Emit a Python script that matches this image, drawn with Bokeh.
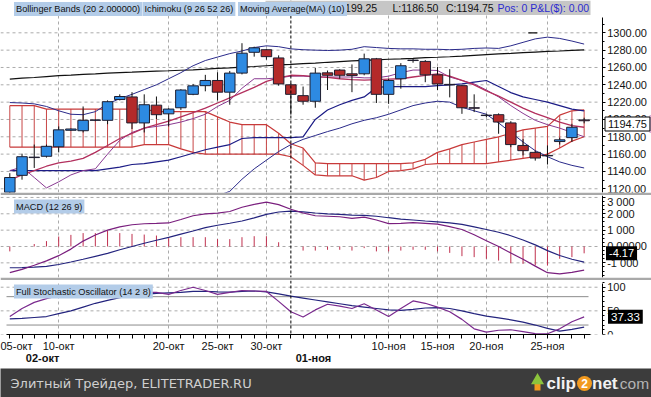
from bokeh.plotting import figure
from bokeh.models import (Range1d, FixedTicker, LinearAxis, Span, Label,
                          BoxAnnotation, ColumnDataSource)
from bokeh.layouts import column
from bokeh.embed import file_html
from bokeh.resources import INLINE

# ---------------- data ----------------
opens = [1116, 1135.5, 1156.5, 1157.5, 1168.5, 1187.5, 1187, 1199, 1199, 1223,
         1226, 1196, 1216.5, 1206.5, 1213.5, 1229, 1239, 1245, 1231.5, 1253.5,
         1277.5, 1280.5, 1271, 1240, 1227.5, 1221, 1253.8, 1257, 1252.7, 1252.7,
         1270, 1229, 1247, 1268.5, 1267, 1251.5, 1240.5, 1239, 1213.5, 1205,
         1205.5, 1196, 1170, 1162, 1158.5, 1174.5, 1179, 1199.5]
highs = [1138, 1160.5, 1171, 1171, 1192, 1189.5, 1215, 1200, 1222, 1229,
         1231.5, 1229, 1226.5, 1213, 1235, 1241, 1251.5, 1254.5, 1256, 1288,
         1284, 1281.5, 1274, 1242, 1238, 1259.5, 1256.5, 1258, 1263.5, 1276,
         1271, 1247, 1265, 1270, 1268.5, 1260.5, 1258, 1240, 1229, 1206.5,
         1207, 1198, 1177.5, 1164, 1170, 1179, 1195, 1202]
lows = [1110, 1130.5, 1144, 1156, 1162, 1187, 1185, 1198, 1194.5, 1222,
        1189, 1185, 1200.5, 1192, 1211, 1228, 1232.5, 1222, 1217, 1252,
        1272.5, 1269, 1239, 1205.5, 1217, 1213.5, 1234, 1247, 1231.5, 1251,
        1219, 1218, 1235.5, 1265.5, 1243, 1234, 1225.5, 1206.5, 1208.5, 1202.5,
        1183.5, 1168, 1158.5, 1152.5, 1148, 1171, 1174, 1195.5]
closes = [1133, 1157, 1156, 1169, 1188, 1189, 1199, 1199.4, 1220.5, 1226.5,
          1196, 1217, 1205.5, 1212, 1234, 1238.8, 1245, 1231.5, 1253.5, 1276.5,
          1282.7, 1272.5, 1241, 1229, 1221, 1253.5, 1251, 1251, 1250.8, 1270,
          1229, 1245, 1262, 1268, 1251.5, 1241, 1240, 1213.5, 1213, 1204.5,
          1197, 1171, 1164, 1155.5, 1158, 1176.5, 1191, 1198.5]

bb_upper = [1219.5, 1219, 1218, 1215, 1210, 1206, 1205.5, 1209, 1218, 1224,
            1229, 1234.5, 1240, 1247, 1254, 1262, 1268, 1272, 1276, 1279,
            1283, 1285, 1284, 1281.5, 1280.5, 1280, 1279.6, 1280, 1281, 1284,
            1283, 1282, 1281.5, 1281.5, 1281, 1281, 1280.5, 1281, 1282, 1282.5,
            1282, 1285, 1289, 1293, 1295, 1293.5, 1290.5, 1287]
bb_lower = [1078, 1076, 1075, 1075, 1076, 1078, 1080, 1082, 1084, 1086,
            1088, 1090, 1093, 1096, 1100, 1104, 1108, 1112, 1117, 1131,
            1143, 1153, 1163, 1171, 1177, 1181.5, 1186, 1190, 1195, 1199,
            1202, 1206, 1211, 1216, 1219, 1221, 1220, 1214, 1210, 1206,
            1196, 1185, 1174, 1164, 1157, 1151, 1147, 1144]
kijun = [1141, 1141, 1141, 1141, 1141, 1141, 1141, 1141, 1143, 1145,
         1148, 1149, 1151, 1153, 1157, 1161, 1165, 1168, 1171, 1178,
         1179, 1179, 1179, 1179, 1180, 1200, 1211, 1217, 1222, 1226,
         1237, 1238, 1238, 1238, 1238, 1239, 1240, 1241, 1243, 1245,
         1238, 1231, 1226, 1223, 1220, 1216, 1212, 1210]
tenkan = [1141, 1145, 1133, 1121, 1128, 1136, 1141, 1143, 1160, 1176,
          1185, 1190, 1192, 1194, 1197, 1201, 1206, 1215, 1222, 1236,
          1247, 1247, 1248, 1250, 1250, 1249, 1249, 1249, 1249, 1248,
          1248, 1250, 1254, 1257, 1257, 1256.5, 1249, 1245, 1241, 1234,
          1226, 1216, 1207, 1199, 1194, 1190, 1185, 1180]
ma10 = [1130, 1136, 1141, 1146, 1150, 1152, 1155, 1162, 1170, 1178,
        1184, 1190, 1194, 1198, 1203, 1208, 1213, 1219, 1225, 1231,
        1237, 1244, 1248, 1251, 1250.5, 1249.5, 1248.5, 1247, 1246, 1245.5,
        1246, 1246.5, 1247, 1249, 1251, 1252.5, 1250, 1245, 1240, 1233,
        1227, 1220, 1213, 1207, 1202, 1197, 1193, 1191]
ma_long = [1246.5, 1247.6, 1248.4, 1249.5, 1250.5, 1251.2, 1252.1, 1252.7, 1253.4, 1254.1,
           1254.6, 1255.3, 1255.8, 1256.2, 1256.8, 1257.3, 1258.0, 1258.9, 1259.6, 1260.4,
           1261.1, 1262.0, 1262.9, 1263.6, 1264.4, 1265.1, 1266.0, 1266.8, 1267.6, 1268.1,
           1268.8, 1269.5, 1270.0, 1270.6, 1271.3, 1271.8, 1272.4, 1273.1, 1274.0, 1274.9,
           1275.6, 1276.2, 1277.1, 1277.8, 1278.5, 1279.0, 1279.7, 1280.3]
span_a = [1216, 1216, 1216, 1212, 1212, 1212, 1212, 1212, 1212, 1212,
          1212, 1212, 1209, 1209, 1209, 1209, 1209, 1203, 1197, 1194,
          1194, 1194, 1184, 1172, 1167, 1150, 1149, 1149, 1149, 1149,
          1149, 1149, 1149, 1150, 1154, 1162, 1166, 1171, 1174, 1177,
          1180, 1184, 1188, 1190, 1192, 1205, 1210, 1211]
span_b = [1168, 1168, 1168, 1168, 1168, 1168, 1168, 1168, 1168, 1168,
          1168, 1171, 1171, 1171, 1166, 1162, 1160, 1160, 1160, 1160,
          1160, 1160, 1160, 1157, 1147, 1136, 1135, 1135, 1135, 1130,
          1133, 1140, 1141, 1143, 1148, 1149, 1149, 1149, 1149, 1149,
          1151, 1153, 1155, 1157, 1160, 1167, 1175, 1180]
stray_mark_x = [42.8]
stray_mark_y = [1300.0]

macd = [-1600, -1400, -1150, -880, -560, -160, 330, 700, 1000, 1200,
        1330, 1390, 1410, 1440, 1650, 1880, 1990, 2040, 2140, 2400,
        2580, 2710, 2560, 2280, 2050, 1880, 1850, 1820, 1720, 1800,
        1620, 1400, 1420, 1460, 1420, 1370, 1220, 1040, 720, 350,
        0, -400, -780, -1200, -1600, -1680, -1580, -1440]
macd_signal = [-1300, -1290, -1260, -1220, -1100, -950, -780, -600, -420, -200,
               0, 200, 380, 560, 760, 950, 1150, 1300, 1420, 1560,
               1750, 1960, 2110, 2160, 2120, 2050, 2000, 1960, 1920, 1900,
               1850, 1760, 1680, 1620, 1560, 1510, 1450, 1350, 1200, 1040,
               870, 660, 400, 100, -250, -550, -780, -960]
macd_hist = [-300, 0, 150, 330, 610, 710, 820, 820, 980, 820,
             770, 730, 670, 510, 570, 570, 570, 450, 450, 570,
             630, 630, 260, 0, -250, -250, -200, -200, -250, -100,
             -300, -300, -250, -200, -200, -300, -390, -590, -650, -750,
             -860, -1020, -1060, -1160, -1160, -750, -650, -417]
stoch_k = [38, 55, 68, 76, 82, 86, 88, 90, 92, 93,
           90, 89, 89, 85, 93, 100, 93, 85, 89, 93,
           92, 91, 70, 48, 37, 52, 64, 60, 55, 65,
           52, 38, 55, 71, 66, 58, 48, 32, 12, 5,
           9, 10, 6, 2, 1.5, 12, 27, 37.33]
stoch_d = [33, 34, 36, 38, 44, 50, 58, 66, 72, 78,
           82, 85, 87, 88, 89, 91, 91.5, 90, 89.5, 91,
           92, 90, 86, 81, 77, 73, 69, 65, 61, 58,
           55, 52, 51, 53, 56, 57, 55, 50, 44, 39,
           35, 31, 26, 20, 13, 7, 11, 15.5]

day_labels = {0: "05-окт", 4: "10-окт", 13: "20-окт", 17: "25-окт", 21: "30-окт",
              31: "10-ноя", 35: "15-ноя", 39: "20-ноя", 44: "25-ноя"}
month_labels = {2.68: "02-окт", 24.85: "01-ноя"}
month_start_idx = 23
price_ticks = [1120, 1140, 1160, 1180, 1200, 1220, 1240, 1260, 1280, 1300]
macd_ticks = {-1000: "-1 000", 0: "0.00000", 1000: "1 000", 2000: "2 000", 3000: "3 000"}
stoch_ticks = {0: "0", 50: "50", 100: "100"}
stoch_levels = [20, 80]
quote_high, quote_low, quote_close = 1199.25, 1186.50, 1194.75
macd_last_text = "-4.17"
macd_last_value = -417
stoch_last = 37.33

# ---------------- layout constants ----------------
FONT = "Liberation Sans"
W = 651
PX_PER_IDX = 12.22
X_START = -9.3 / PX_PER_IDX
X_END = X_START + W / PX_PER_IDX
GRID = "#ababab"
SEP = "#a9a9a9"
LBL_BG = "#b3cce8"
N = len(closes)
idx = list(range(N))
grid_idx = sorted(k for k in day_labels if k != 0)

x_range = Range1d(X_START, X_END)


def px_x(px):
    return X_START + px / PX_PER_IDX


AXIS_X = px_x(601.7)
LINE_END = px_x(590)
GRID_END = px_x(598)


def make_panel(frame_h, y0, y1, ticks, labels, minor, axis_top=None, xaxis=False):
    p = figure(frame_width=W, frame_height=frame_h, x_range=x_range,
               y_range=Range1d(y0, y1), output_backend="svg", toolbar_location=None,
               y_axis_location=None, x_axis_location="below" if xaxis else None,
               min_border_left=0, min_border_right=0, min_border_top=0,
               min_border_bottom=34 if xaxis else 3)
    p.outline_line_color = None
    p.background_fill_color = "white"
    # the 3px bottom border of the upper panels acts as the grey separator
    p.border_fill_color = "white" if xaxis else SEP
    p.xgrid.ticker = FixedTicker(ticks=grid_idx)
    p.xgrid.grid_line_color = GRID
    p.xgrid.grid_line_dash = "3 3"
    p.ygrid.visible = False
    # horizontal dashed grid, ending at the axis
    p.segment(x0=[X_START] * len(ticks), x1=[GRID_END] * len(ticks), y0=list(ticks),
              y1=list(ticks), line_color=GRID, line_dash="3 3", line_width=1)
    ya = LinearAxis(fixed_location=AXIS_X, ticker=FixedTicker(ticks=list(ticks), minor_ticks=minor),
                    major_label_overrides=labels,
                    bounds=(y0, axis_top if axis_top is not None else y1))
    ya.axis_line_color = "black"
    ya.major_tick_line_color = "black"
    ya.minor_tick_line_color = "black"
    ya.major_tick_in = 0
    ya.major_tick_out = 3
    ya.minor_tick_in = 0
    ya.minor_tick_out = 2
    ya.major_label_standoff = 2
    ya.major_label_text_font = FONT
    ya.major_label_text_font_size = "11px"
    ya.major_label_text_color = "#151515"
    p.add_layout(ya, "right")
    p.add_layout(Span(location=month_start_idx, dimension="height", line_color="black",
                      line_dash="3 2", line_width=1))
    return p


def val_y(p, top_px, frame_h, py):
    y0, y1 = p.y_range.start, p.y_range.end
    return y1 - (py - top_px) * (y1 - y0) / frame_h


def add_label(p, text, x, y, size, color="#111111", bg=None, pad=0, bold=False,
              border=None, align="left", font=FONT, level="annotation"):
    p.add_layout(Label(x=x, y=y, text=text, text_font=font, text_font_size=size,
                       text_color=color, text_baseline="middle", text_align=align,
                       background_fill_color=bg, background_fill_alpha=1.0 if bg else 0,
                       border_line_color=border, padding=pad, level=level,
                       text_font_style="bold" if bold else "normal"))


# ---------------- price panel ----------------
P_H, P_TOP = 192, 0
P0, P1 = 1115.7, 1337.3
pp = make_panel(P_H, P0, P1, price_ticks, {t: f"{t:.2f}" for t in price_ticks},
                list(range(1120, 1320, 10)), axis_top=P1 - 17 * (P1 - P0) / P_H)

# Ichimoku cloud: hatch lines + boundaries
pp.segment(x0=idx, y0=span_b, x1=idx, y1=span_a, line_color="#c84646", line_width=1)
pp.line(idx, span_a, line_color="#c83a3a", line_width=1.2)
pp.line(idx, span_b, line_color="#c83a3a", line_width=1.2)
# lines
pp.line(idx, ma_long, line_color="#111111", line_width=1.2)
pp.line(idx, bb_upper, line_color="#2a2a8a", line_width=1)
pp.line(idx, bb_lower, line_color="#2a2a8a", line_width=1)
pp.line(idx, kijun, line_color="#1c1c86", line_width=1.2)
pp.line(idx, tenkan, line_color="#8a3a92", line_width=1)
pp.line(idx, ma10, line_color="#b3305e", line_width=1.3)
pp.scatter(stray_mark_x, stray_mark_y, marker="dash", size=9, line_color="#111111",
           line_width=1.2)

# candles
src = ColumnDataSource(dict(
    x=idx, o=opens, h=highs, l=lows, c=closes,
    top=[max(o, c) for o, c in zip(opens, closes)],
    bot=[min(o, c) for o, c in zip(opens, closes)],
    col=["#2d8ae2" if c >= o else "#b42a2a" for o, c in zip(opens, closes)]))
pp.segment(x0="x", y0="l", x1="x", y1="h", source=src, line_color="#101010", line_width=1)
pp.vbar(x="x", width=0.86, top="top", bottom="bot", source=src, fill_color="col",
        line_color="#1e1e30", line_width=1)

# header
pp.add_layout(BoxAnnotation(left=px_x(265), right=px_x(590), top=val_y(pp, P_TOP, P_H, 0),
                            bottom=val_y(pp, P_TOP, P_H, 14.5), fill_color="#c6c6c6",
                            fill_alpha=1, line_color=None))
hy = val_y(pp, P_TOP, P_H, 7.2)
add_label(pp, f"H:{quote_high:.2f}", px_x(329), hy, "10.5px")
add_label(pp, f"L:{quote_low:.2f}", px_x(392), hy, "10.5px")
add_label(pp, f"C:{quote_close:.2f}", px_x(445.5), hy, "10.5px")
add_label(pp, "Pos: 0 P&L($): 0.00", px_x(497), hy, "10.5px", color="#2b2bd0")
ly = val_y(pp, P_TOP, P_H, 8.5)
add_label(pp, "Bollinger Bands (20 2.000000)", px_x(13.5), ly, "9.2px", bg=LBL_BG, pad=2)
add_label(pp, "Ichimoku (9 26 52 26)", px_x(142), ly, "9.2px", bg=LBL_BG, pad=2)
add_label(pp, "Moving Average(MA) (10)", px_x(237.5), ly, "9.2px", bg=LBL_BG, pad=2)
# current value box (drawn above the axis)
add_label(pp, " ", px_x(649), quote_close, "11px", bg="#d8b0d6", pad=3, level="overlay")
add_label(pp, f"{quote_close:.2f}", px_x(604.5), quote_close, "11px", bg="white", pad=3,
          border="black", level="overlay")

# ---------------- MACD panel ----------------
M_H, M_TOP = 82, 195
pm = make_panel(M_H, -1896, 3119, list(macd_ticks), macd_ticks,
                list(range(-1750, 3250, 250)))
pm.segment(x0=idx, y0=[0] * N, x1=idx, y1=macd_hist, line_color="#c0304e", line_width=1)
pm.line(idx, macd_signal, line_color="#24247e", line_width=1.2)
pm.line(idx, macd, line_color="#7a1f7e", line_width=1.2)
add_label(pm, "MACD (12 26 9)", px_x(13.5), val_y(pm, M_TOP, M_H, 206), "9.2px",
          bg=LBL_BG, pad=2)
add_label(pm, macd_last_text, px_x(605.5), macd_last_value, "11px", color="white",
          bg="black", pad=3, level="overlay")

# ---------------- Stochastic panel ----------------
S_H, S_TOP = 54, 280
S0, S1 = 0, 114.2
ps = make_panel(S_H, S0, S1, list(stoch_ticks), stoch_ticks, list(range(0, 111, 10)),
                axis_top=S1 - 3 * (S1 - S0) / S_H, xaxis=True)
ps.segment(x0=[px_x(6)] * len(stoch_levels), x1=[px_x(588)] * len(stoch_levels),
           y0=stoch_levels, y1=stoch_levels, line_color="#8c8c8c", line_width=1)
ps.line(idx, stoch_d, line_color="#24247e", line_width=1.2)
ps.line(idx, stoch_k, line_color="#7a2a8e", line_width=1.2)
add_label(ps, "Full Stochastic Oscillator (14 2 8)", px_x(13.5), val_y(ps, S_TOP, S_H, 291),
          "9.2px", bg=LBL_BG, pad=2)
add_label(ps, f"{stoch_last:.2f}", px_x(607.5), stoch_last, "11.5px", color="white",
          bg="black", pad=3, level="overlay")

ax1 = ps.below[0]
ax1.ticker = FixedTicker(ticks=idx)
ax1.bounds = (px_x(6), LINE_END)
ax1.major_label_overrides = {i: day_labels.get(i, "") for i in idx}
ax1.axis_line_color = "black"
ax1.major_tick_line_color = "black"
ax1.major_tick_in = 0
ax1.major_tick_out = 4
ax1.minor_tick_line_color = None
ax1.major_label_standoff = 1
ax1.major_label_text_font = FONT
ax1.major_label_text_font_size = "11px"
ax1.major_label_text_color = "#111111"

ax2 = LinearAxis(ticker=FixedTicker(ticks=list(month_labels)),
                 major_label_overrides=month_labels)
ax2.axis_line_color = None
ax2.major_tick_line_color = None
ax2.minor_tick_line_color = None
ax2.major_label_standoff = -9
ax2.major_label_text_font = FONT
ax2.major_label_text_font_size = "11px"
ax2.major_label_text_font_style = "bold"
ax2.major_label_text_color = "#111111"
ps.add_layout(ax2, "below")

# ---------------- footer ----------------
pf = figure(frame_width=W, frame_height=29, x_range=Range1d(0, W), y_range=Range1d(0, 29),
            output_backend="svg", toolbar_location=None, x_axis_location=None,
            y_axis_location=None, min_border=0)
pf.outline_line_color = None
pf.background_fill_color = "#3c3c3c"
pf.border_fill_color = "#3c3c3c"
pf.grid.visible = False
add_label(pf, "Элитный Трейдер, ELITETRADER.RU", 10, 14, "13px", color="#cfcfcf",
          font="DejaVu Sans")
pf.quad(left=[534], right=[540], bottom=[7], top=[14], fill_color="#f29a1f", line_color=None)
pf.scatter([537], [17], marker="triangle", size=13, fill_color="#8cc43c", line_color=None)
add_label(pf, "clip", 546, 14, "17px", color="#f2f2f2", bold=True, font="Liberation Sans")
pf.scatter([584], [14], marker="circle", size=15, fill_color="#f29a1f", line_color=None)
add_label(pf, "2", 584, 14, "12px", color="white", bold=True, align="center")
add_label(pf, "net", 591.5, 14, "17px", color="#f2f2f2", bold=True)
add_label(pf, ".com", 615, 14, "15.5px", color="#b4b4b4")

layout = column(pp, pm, ps, pf, spacing=0)
open("out.html", "w").write(file_html(layout, INLINE))
